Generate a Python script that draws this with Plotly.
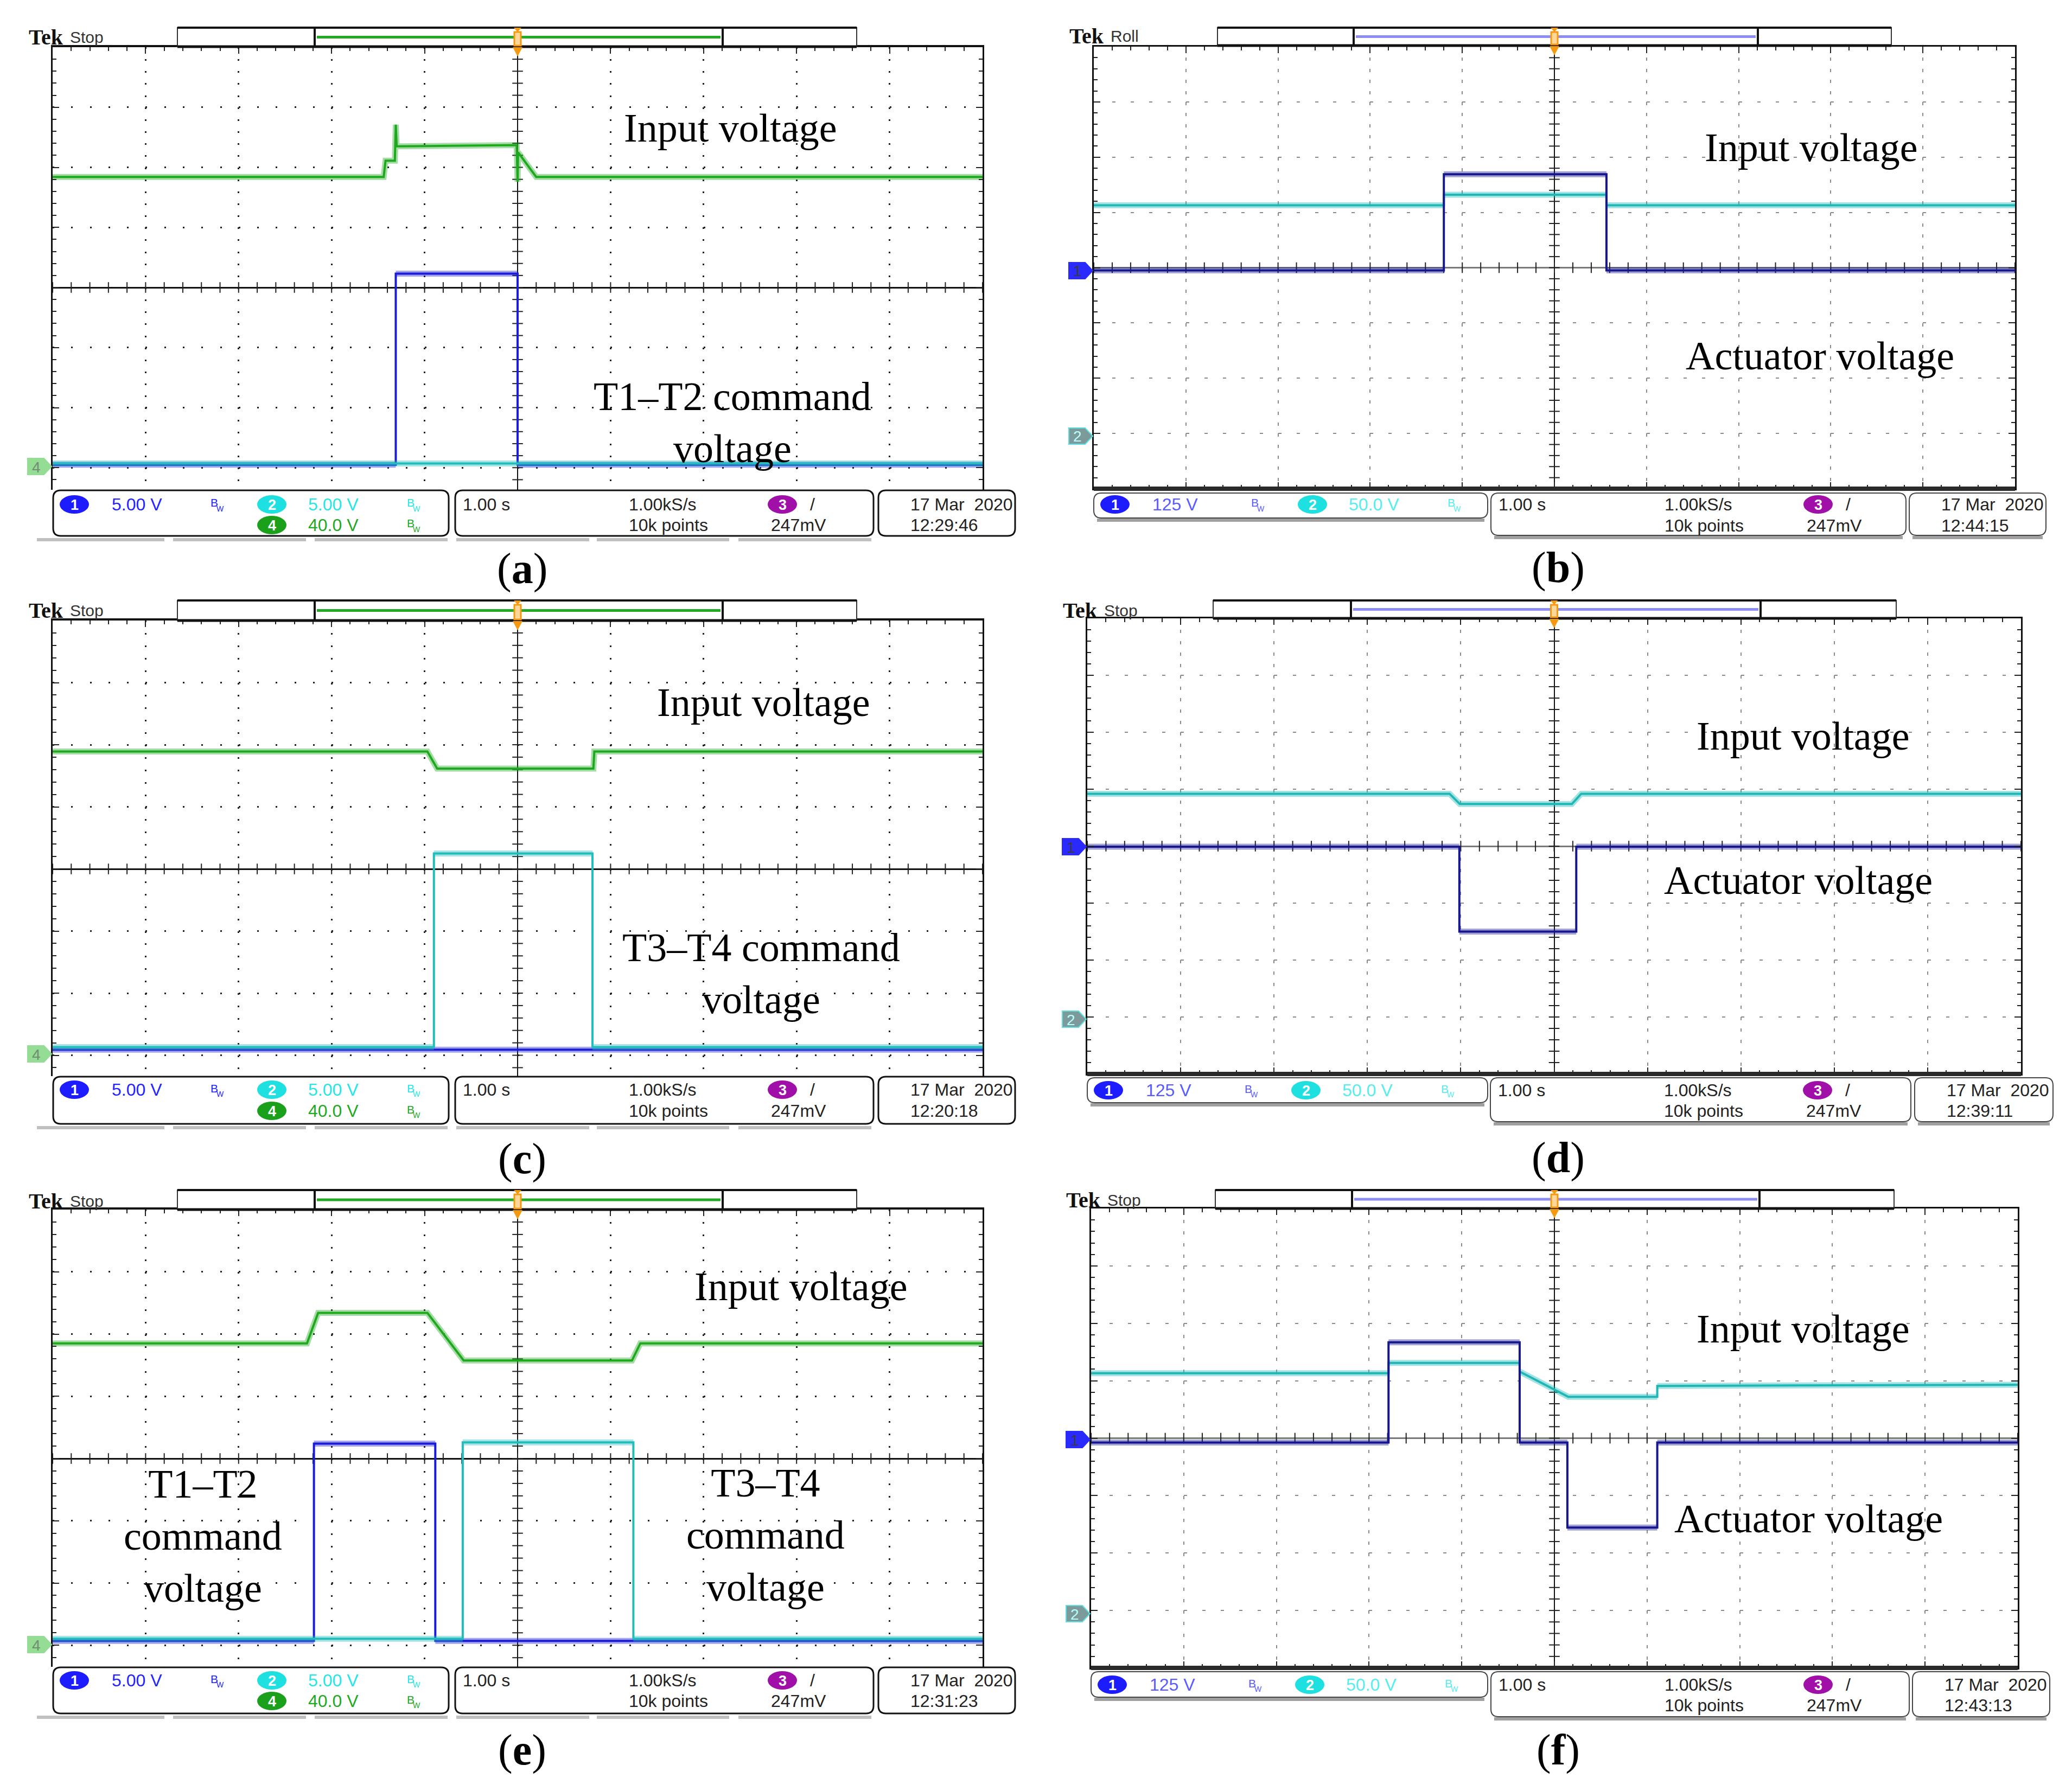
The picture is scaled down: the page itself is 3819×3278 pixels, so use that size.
import numpy as np
import plotly.graph_objects as go

W, H = 3819, 3278

# ---------------------------------------------------------------------------
# Values.
# Time in seconds (1.00 s/div, trigger at 0), levels in vertical screen
# divisions measured from the graticule centre line.
# ---------------------------------------------------------------------------
# (a) T1-T2 command
A_INPUT_T = [-5.0, -1.44, -1.42, -1.32, -1.31, -1.305, -1.30, -0.01, 0.0, 0.005, 0.20, 5.0]
A_INPUT_V = [1.84, 1.84, 2.11, 2.11, 2.71, 2.35, 2.35, 2.37, 1.76, 2.25, 1.84, 1.84]
A_CMD12_T = [-5.0, -1.31, -1.31, 0.0, 0.0, 5.0]
A_CMD12_V = [-2.95, -2.95, 0.23, 0.23, -2.95, -2.95]
A_CMD34_T = [-5.0, 5.0]
A_CMD34_V = [-2.93, -2.93]
# (b) actuator with T1-T2
B_INPUT_T = [-5.0, -1.20, -1.20, 0.565, 0.565, 5.0]
B_INPUT_V = [1.13, 1.13, 1.32, 1.32, 1.13, 1.13]
B_ACT_T = [-5.0, -1.20, -1.20, 0.565, 0.565, 5.0]
B_ACT_V = [-0.05, -0.05, 1.69, 1.69, -0.05, -0.05]
# (c) T3-T4 command
C_INPUT_T = [-5.0, -0.97, -0.865, 0.815, 0.825, 5.0]
C_INPUT_V = [1.89, 1.89, 1.615, 1.615, 1.89, 1.89]
C_CMD12_T = [-5.0, 5.0]
C_CMD12_V = [-2.91, -2.91]
C_CMD34_T = [-5.0, -0.90, -0.90, 0.805, 0.805, 5.0]
C_CMD34_V = [-2.87, -2.87, 0.25, 0.25, -2.87, -2.87]
# (d) actuator with T3-T4
D_INPUT_T = [-5.0, -1.12, -1.01, 0.19, 0.29, 5.0]
D_INPUT_V = [0.92, 0.92, 0.74, 0.74, 0.92, 0.92]
D_ACT_T = [-5.0, -1.015, -1.015, 0.237, 0.237, 5.0]
D_ACT_V = [-0.01, -0.01, -1.50, -1.50, -0.01, -0.01]
# (e) both commands
E_INPUT_T = [-5.0, -2.265, -2.145, -0.97, -0.58, 1.23, 1.32, 5.0]
E_INPUT_V = [1.85, 1.85, 2.34, 2.34, 1.575, 1.575, 1.85, 1.85]
E_CMD12_T = [-5.0, -2.19, -2.19, -0.885, -0.885, 5.0]
E_CMD12_V = [-2.93, -2.93, 0.24, 0.24, -2.93, -2.93]
E_CMD34_T = [-5.0, -0.59, -0.59, 1.245, 1.245, 5.0]
E_CMD34_V = [-2.895, -2.895, 0.26, 0.26, -2.895, -2.895]
# (f) actuator, both directions
F_INPUT_T = [-5.0, -1.79, -1.79, -0.375, -0.375, -0.14, 0.15, 1.11, 1.11, 5.0]
F_INPUT_V = [1.13, 1.13, 1.31, 1.31, 1.16, 0.96, 0.72, 0.72, 0.91, 0.93]
F_ACT_T = [-5.0, -1.79, -1.79, -0.375, -0.375, 0.14, 0.14, 1.11, 1.11, 5.0]
F_ACT_V = [-0.075, -0.075, 1.67, 1.67, -0.075, -0.075, -1.556, -1.556, -0.075, -0.075]

# status-bar texts
LEFT_SCALES = ["5.00 V", "5.00 V", "40.0 V"]
RIGHT_SCALES = ["125 V", "50.0 V"]
TIMEBASE = "1.00 s"
SAMPLE_RATE = "1.00kS/s"
RECORD_LEN = "10k points"
TRIG_LEVEL = "247mV"
DATE = "17 Mar  2020"
CLOCK = {"a": "12:29:46", "b": "12:44:15", "c": "12:20:18",
         "d": "12:39:11", "e": "12:31:23", "f": "12:43:13"}
MODE = {"a": "Stop", "b": "Roll", "c": "Stop", "d": "Stop", "e": "Stop", "f": "Stop"}
LABELS = {
    "a": [("Input voltage", 1338, 228), ("T1\u2013T2 command<br>voltage", 1342, 771)],
    "b": [("Input voltage", 3330, 264), ("Actuator voltage", 3346, 648)],
    "c": [("Input voltage", 1399, 1287), ("T3\u2013T4 command<br>voltage", 1395, 1787)],
    "d": [("Input voltage", 3315, 1349), ("Actuator voltage", 3306, 1615)],
    "e": [("Input voltage", 1468, 2364), ("T1\u2013T2<br>command<br>voltage", 366, 2824),
          ("T3\u2013T4<br>command<br>voltage", 1403, 2822)],
    "f": [("Input voltage", 3315, 2442), ("Actuator voltage", 3325, 2792)],
}

# ---------------------------------------------------------------------------
# colours / fonts
GREEN = "#1ea81e"
BLUE_L = "#1c1cd6"
CYAN_L = "#22bcbc"
BLUE_R = "#16168e"
CYAN_R = "#1fb6b6"
SERIF = "Liberation Serif, Times New Roman, serif"
SANS_N = "Liberation Sans Narrow, Arial Narrow, Liberation Sans, sans-serif"

TRACES = {
    "a": [(A_CMD12_T, A_CMD12_V, BLUE_L), (A_CMD34_T, A_CMD34_V, CYAN_L), (A_INPUT_T, A_INPUT_V, GREEN)],
    "b": [(B_INPUT_T, B_INPUT_V, CYAN_R), (B_ACT_T, B_ACT_V, BLUE_R)],
    "c": [(C_CMD12_T, C_CMD12_V, BLUE_L), (C_CMD34_T, C_CMD34_V, CYAN_L), (C_INPUT_T, C_INPUT_V, GREEN)],
    "d": [(D_INPUT_T, D_INPUT_V, CYAN_R), (D_ACT_T, D_ACT_V, BLUE_R)],
    "e": [(E_CMD12_T, E_CMD12_V, BLUE_L), (E_CMD34_T, E_CMD34_V, CYAN_L), (E_INPUT_T, E_INPUT_V, GREEN)],
    "f": [(F_INPUT_T, F_INPUT_V, CYAN_R), (F_ACT_T, F_ACT_V, BLUE_R)],
}

# ---------------------------------------------------------------------------
# layout geometry (pixels)
GEOM = {
    "a": dict(kind="L", x0=89, x1=1803, y0=79, y1=895, yc=522),
    "b": dict(kind="R", x0=2008, x1=3706, y0=78, y1=893),
    "c": dict(kind="L", x0=89, x1=1803, y0=1136, y1=1976, yc=1594),
    "d": dict(kind="R", x0=1996, x1=3717, y0=1132, y1=1972),
    "e": dict(kind="L", x0=89, x1=1803, y0=2222, y1=3065, yc=2681),
    "f": dict(kind="R", x0=2003, x1=3711, y0=2220, y1=3067),
}
TOPBAR = {
    "a": dict(ox=(319, 1571), ix=(572, 1324), y=(43, 78)),
    "b": dict(ox=(2236, 3478), ix=(2487, 3232), y=(43, 76)),
    "c": dict(ox=(319, 1571), ix=(572, 1324), y=(1099, 1136)),
    "d": dict(ox=(2228, 3487), ix=(2482, 3237), y=(1099, 1132)),
    "e": dict(ox=(319, 1571), ix=(572, 1324), y=(2186, 2222)),
    "f": dict(ox=(2232, 3483), ix=(2484, 3235), y=(2186, 2220)),
}
TEK = {"a": (43, 61), "b": (1961, 58), "c": (43, 1117), "d": (1949, 1117), "e": (43, 2206), "f": (1955, 2204)}
STATUS = {
    "a": dict(y0=896, y1=980, b1y1=980, b1=(90, 819), b2=(831, 1602), b3=(1611, 1863), r=(922, 960)),
    "b": dict(y0=901, y1=979, b1y1=947, b1=(2008, 2734), b2=(2740, 3505), b3=(3511, 3763), r=(922, 961)),
    "c": dict(y0=1977, y1=2064, b1y1=2064, b1=(90, 819), b2=(831, 1602), b3=(1611, 1863), r=(2001, 2040)),
    "d": dict(y0=1979, y1=2060, b1y1=2025, b1=(1996, 2734), b2=(2739, 3514), b3=(3521, 3776), r=(2002, 2040)),
    "e": dict(y0=3066, y1=3151, b1y1=3151, b1=(90, 819), b2=(831, 1602), b3=(1611, 1863), r=(3090, 3128)),
    "f": dict(y0=3074, y1=3157, b1y1=3121, b1=(2003, 2734), b2=(2740, 3511), b3=(3517, 3770), r=(3098, 3136)),
}
MARKERS = {"a": [("4", 852)], "c": [("4", 1935)], "e": [("4", 3024)],
           "b": [("1", 491), ("2", 796)], "d": [("1", 1553), ("2", 1871)], "f": [("1", 2646), ("2", 2967)]}
PANEL_TAG = {"a": (954, 1040), "b": (2864, 1039), "c": (954, 2128), "d": (2864, 2126),
             "e": (954, 3218), "f": (2864, 3218)}

shapes, anns = [], []


def P(x, y):
    return x / W, 1 - y / H


def add_line(x0, y0, x1, y1, color, width):
    a, b = P(x0, y0)
    c, d = P(x1, y1)
    shapes.append(dict(type="line", xref="paper", yref="paper", x0=a, y0=b, x1=c, y1=d,
                       line=dict(color=color, width=width), layer="above"))


def add_rect(x0, y0, x1, y1, fill="white", color="black", width=0):
    a, b = P(x0, y1)
    c, d = P(x1, y0)
    shapes.append(dict(type="rect", xref="paper", yref="paper", x0=a, y0=b, x1=c, y1=d,
                       fillcolor=fill, line=dict(color=color, width=width), layer="above"))


def add_poly(pts, fill, color=None, width=0):
    s = "M " + " L ".join("%.6f,%.6f" % P(x, y) for x, y in pts) + " Z"
    shapes.append(dict(type="path", xref="paper", yref="paper", path=s, fillcolor=fill,
                       line=dict(color=color or fill, width=width), layer="above"))


def add_rrect(x0, y0, x1, y1, r, color, width, fill="rgba(0,0,0,0)"):
    def q(x, y):
        return "%.6f,%.6f" % P(x, y)
    s = ("M " + q(x0 + r, y0) + " L " + q(x1 - r, y0) + " Q " + q(x1, y0) + " " + q(x1, y0 + r) +
         " L " + q(x1, y1 - r) + " Q " + q(x1, y1) + " " + q(x1 - r, y1) +
         " L " + q(x0 + r, y1) + " Q " + q(x0, y1) + " " + q(x0, y1 - r) +
         " L " + q(x0, y0 + r) + " Q " + q(x0, y0) + " " + q(x0 + r, y0) + " Z")
    shapes.append(dict(type="path", xref="paper", yref="paper", path=s, fillcolor=fill,
                       line=dict(color=color, width=width), layer="above"))


def add_ellipse(cx, cy, rx, ry, fill):
    a, b = P(cx - rx, cy + ry)
    c, d = P(cx + rx, cy - ry)
    shapes.append(dict(type="circle", xref="paper", yref="paper", x0=a, y0=b, x1=c, y1=d,
                       fillcolor=fill, line=dict(color=fill, width=0), layer="above"))


def text(x, y, s, size, color="black", family=SANS_N, xanchor="left", yanchor="middle"):
    a, b = P(x, y)
    anns.append(dict(x=a, y=b, xref="paper", yref="paper", text=s, showarrow=False,
                     xanchor=xanchor, yanchor=yanchor, align="center",
                     font=dict(size=size, color=color, family=family)))


def badge(cx, cy, label, fill):
    add_ellipse(cx, cy, 27, 17, fill)
    text(cx, cy + 1, "<b>%s</b>" % label, 27, "white", SANS_N, "center")


def bw(x, y, color):
    # bandwidth-limit symbol: B with a small W below-right
    text(x, y - 3, "B", 21, color)
    text(x + 11, y + 8, "W", 14, color)


def fuzz(t, v):
    ot, ov = [], []
    for i in range(len(t)):
        ot.append(t[i])
        ov.append(v[i])
        if i + 1 < len(t) and t[i + 1] == t[i]:
            ot.append(None)
            ov.append(None)
    return ot, ov


def rgba(hexc, a):
    h = hexc.lstrip("#")
    return "rgba(%d,%d,%d,%.2f)" % (int(h[0:2], 16), int(h[2:4], 16), int(h[4:6], 16), a)


fig = go.Figure()
layout = {}
ORDER = ["a", "b", "c", "d", "e", "f"]

for k, key in enumerate(ORDER, start=1):
    g = GEOM[key]
    sfx = "" if k == 1 else str(k)
    left = g["kind"] == "L"
    xdiv = (g["x1"] - g["x0"]) / 10.0
    if left:
        yc = g["yc"]
        ydiv = (yc - g["y0"]) / 4.0
    else:
        yc = (g["y0"] + g["y1"]) / 2.0
        ydiv = (g["y1"] - g["y0"]) / 8.0
    ytop = (yc - g["y0"]) / ydiv
    ybot = -(g["y1"] - yc) / ydiv

    gcol = "#222222" if left else "#8a8a8a"
    gw = 3 if left else 2
    dlen = 3 if left else 6
    px_y = 0.2 * ydiv
    px_x = 0.2 * xdiv
    layout["xaxis" + sfx] = dict(
        domain=[g["x0"] / W, g["x1"] / W], range=[-5, 5], anchor="y" + sfx,
        showticklabels=False, tick0=-5, dtick=1, side="top",
        showgrid=True, gridcolor=gcol, gridwidth=gw,
        griddash="%dpx,%.2fpx" % (dlen, px_y - dlen),
        zeroline=True, zerolinecolor="#111111", zerolinewidth=2,
        showline=True, linecolor="#111111", linewidth=4 if left else 3,
        mirror=False if left else "ticks",
        ticks="inside", ticklen=12, tickwidth=2, tickcolor="#222222",
        minor=dict(ticks="inside", ticklen=7, tickwidth=2, tickcolor="#222222",
                   dtick=0.2, tick0=-5, showgrid=False),
        fixedrange=True)
    layout["yaxis" + sfx] = dict(
        domain=[1 - g["y1"] / H, 1 - g["y0"] / H], range=[ybot, ytop], anchor="x" + sfx,
        showticklabels=False, tick0=0, dtick=1,
        showgrid=True, gridcolor=gcol, gridwidth=gw,
        griddash="%dpx,%.2fpx" % (dlen, px_x - dlen),
        zeroline=True, zerolinecolor="#111111" if left else "#7a7a7a", zerolinewidth=3,
        showline=True, linecolor="#111111", linewidth=3, mirror="ticks",
        ticks="inside", ticklen=12, tickwidth=2, tickcolor="#222222",
        minor=dict(ticks="inside", ticklen=7, tickwidth=2, tickcolor="#222222",
                   dtick=0.2, tick0=0, showgrid=False),
        fixedrange=True)

    # centre-line tick marks every 0.2 div
    tx = np.arange(-5, 5.001, 0.2)
    fig.add_trace(go.Scatter(x=tx, y=np.zeros_like(tx), mode="markers", xaxis="x" + sfx, yaxis="y" + sfx,
                             marker=dict(symbol="line-ns", size=14, line=dict(width=2, color="#222222")),
                             hoverinfo="skip", showlegend=False))
    ty = np.arange(np.ceil(ybot / 0.2) * 0.2, ytop + 0.001, 0.2)
    fig.add_trace(go.Scatter(x=np.zeros_like(ty), y=ty, mode="markers", xaxis="x" + sfx, yaxis="y" + sfx,
                             marker=dict(symbol="line-ew", size=14, line=dict(width=2, color="#222222")),
                             hoverinfo="skip", showlegend=False))

    # waveforms
    for t, v, col in TRACES[key]:
        ft, fv = fuzz(t, v)
        fig.add_trace(go.Scatter(x=ft, y=fv, mode="lines", xaxis="x" + sfx, yaxis="y" + sfx,
                                 line=dict(color=rgba(col, 0.40), width=11), connectgaps=False,
                                 hoverinfo="skip", showlegend=False))
        fig.add_trace(go.Scatter(x=t, y=v, mode="lines", xaxis="x" + sfx, yaxis="y" + sfx,
                                 line=dict(color=col, width=4),
                                 hoverinfo="skip", showlegend=False))

    # thick bottom border on the right-hand screens
    if not left:
        add_line(g["x0"], g["y1"], g["x1"], g["y1"], "#2a2a2a", 8)

    # record-view bar on top
    tb = TOPBAR[key]
    (ox0, ox1), (ix0, ix1), (by0, by1) = tb["ox"], tb["ix"], tb["y"]
    add_rect(ox0, by0, ox1, by1, "white", "#333333", 2)
    add_line(ox0, by0, ox1, by0, "#111111", 4)
    add_line(ox0, by1, ox1, by1, "#111111", 5)
    add_line(ix0, by0, ix0, by1, "#111111", 4)
    add_line(ix1, by0, ix1, by1, "#111111", 4)
    bym = (by0 + by1) / 2.0
    add_line(ix0 + 4, bym, ix1 - 4, bym, "#22aa22" if left else "#8c8cf5", 5)
    cx = (g["x0"] + g["x1"]) / 2.0
    add_rect(cx - 6, by0 + 8, cx + 6, by1 - 2, "#fdd79a", "#f59a10", 3)
    add_poly([(cx - 7, by0), (cx + 7, by0), (cx, by0 + 8)], "#f59a10")
    add_poly([(cx - 9, by1 + 1), (cx + 9, by1 + 1), (cx, by1 + 18)], "#f59a10")

    # Tek label
    tx0, tyc = TEK[key]
    text(tx0, tyc, "<b>Tek</b>", 40, "#111111", SERIF)
    text(tx0 + 76, tyc, MODE[key], 30, "#333333", SANS_N)

    # channel markers at the left edge
    for lab, my in MARKERS[key]:
        xr = g["x0"] - 2
        if lab == "4":
            fill, tcol, lcol = "#95dc95", "#6f8f6f", "#95dc95"
        elif lab == "1":
            fill, tcol, lcol = "#2a2aff", "#3a3a3a", "#2a2aff"
        else:
            fill, tcol, lcol = "#7d9a9a", "#b8ffff", "#5ee0e0"
        add_poly([(xr - 44, my - 15), (xr - 14, my - 15), (xr, my), (xr - 14, my + 15), (xr - 44, my + 15)],
                 fill, lcol, 2)
        text(xr - 28, my + 1, lab, 28, tcol, SANS_N, "center")

    # status bar
    s = STATUS[key]
    (L1, R1), (L2, R2), (L3, R3) = s["b1"], s["b2"], s["b3"]
    r1, r2 = s["r"]
    if left:
        add_rrect(L1, s["y0"], R1, s["y1"], 14, "#111111", 3, "white")
        add_rrect(L2, s["y0"], R2, s["y1"], 14, "#111111", 3, "white")
        add_rrect(L3, s["y0"], R3, s["y1"], 14, "#111111", 3, "white")
        segs = [(60, 295), (311, 556), (572, 817), (833, 1078), (1092, 1336), (1353, 1598)]
        for a0, a1 in segs:
            add_line(a0, s["y1"] + 7, a1, s["y1"] + 7, "#c0c0c0", 6)
        c1, c2, c4 = "#1c1cff", "#1fe0e0", "#1aa01a"
        s1, s2, s4 = "#2323ff", "#25e6e6", "#22a822"
    else:
        add_line(L1 + 6, s["b1y1"] + 4, R1 - 6, s["b1y1"] + 4, "#a0a0a0", 6)
        add_line(L2 + 6, s["y1"] + 4, R2 - 6, s["y1"] + 4, "#a0a0a0", 6)
        add_line(L3 + 6, s["y1"] + 4, R3 - 6, s["y1"] + 4, "#a0a0a0", 6)
        add_rrect(L1, s["y0"], R1, s["b1y1"], 14, "#444444", 2, "white")
        add_rrect(L2, s["y0"], R2, s["y1"], 14, "#444444", 2, "white")
        add_rrect(L3, s["y0"], R3, s["y1"], 14, "#444444", 2, "white")
        c1, c2 = "#1c1cff", "#1fe0e0"
        s1, s2 = "#5a5aff", "#55eded"
    scales = LEFT_SCALES if left else RIGHT_SCALES
    badge(L1 + 39, r1, "1", c1)
    text(L1 + 106, r1, scales[0], 32, s1)
    bw(L1 + 288, r1, s1)
    badge(L1 + 403, r1, "2", c2)
    text(L1 + 468, r1, scales[1], 32, s2)
    bw(L1 + 650, r1, s2)
    if left:
        badge(L1 + 403, r2, "4", c4)
        text(L1 + 468, r2, scales[2], 32, s4)
        bw(L1 + 650, r2, s4)
    text(L2 + 12, r1, TIMEBASE, 32, "#222222")
    text(L2 + 318, r1, SAMPLE_RATE, 32, "#222222")
    badge(L2 + 603, r1, "3", "#a010a8")
    text(L2 + 652, r1, "/", 32, "#222222")
    text(L2 + 318, r2, RECORD_LEN, 32, "#222222")
    text(L2 + 580, r2, TRIG_LEVEL, 32, "#222222")
    text(L3 + 57, r1, DATE, 32, "#222222")
    text(L3 + 57, r2, CLOCK[key], 32, "#222222")

    # annotation labels
    for lab, lx, ly in LABELS[key]:
        text(lx, ly, lab, 74, "black", SERIF, "center")

    # panel tag
    px0, py0 = PANEL_TAG[key]
    text(px0, py0, "(<b>%s</b>)" % key, 80, "black", SERIF, "center")

fig.update_layout(width=W, height=H, margin=dict(l=0, r=0, t=0, b=0),
                  paper_bgcolor="white", plot_bgcolor="white", showlegend=False,
                  shapes=shapes, annotations=anns, **layout)
fig.write_html("out.html")
